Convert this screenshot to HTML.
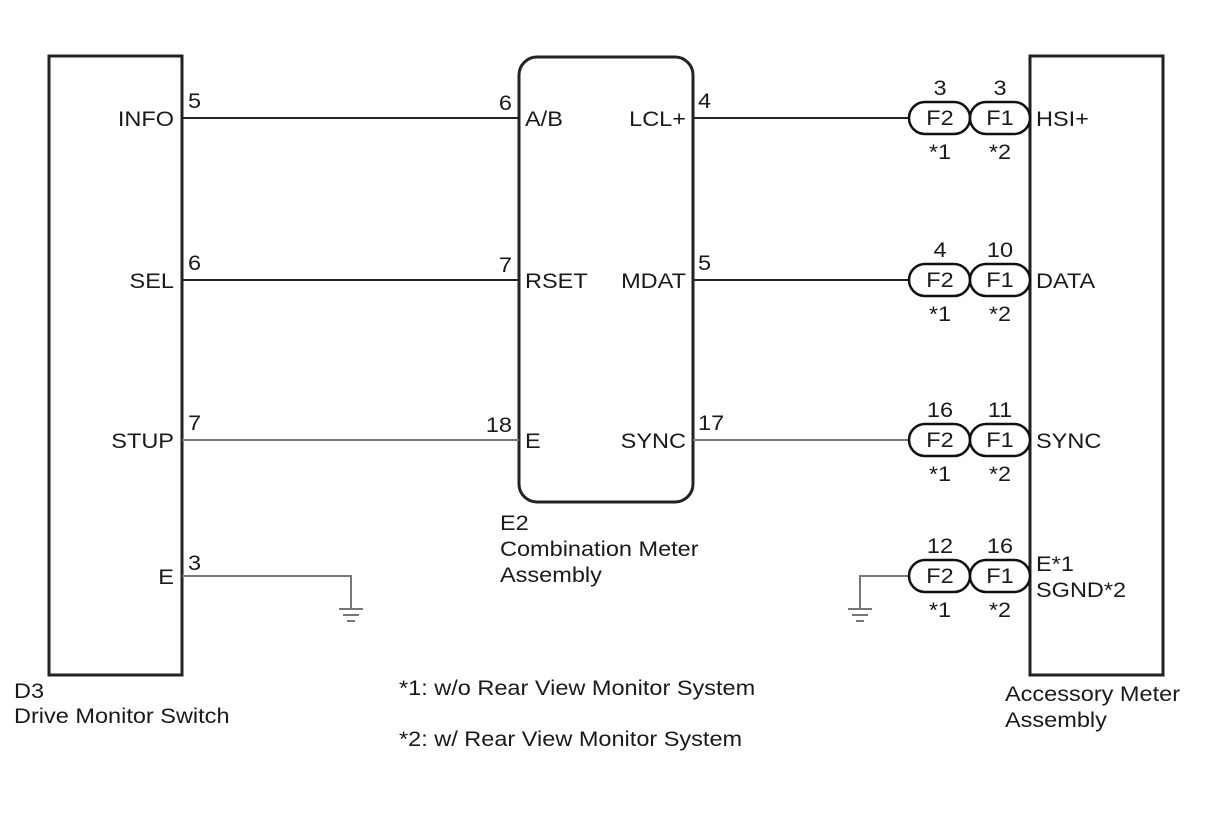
<!DOCTYPE html>
<html><head><meta charset="utf-8"><style>
html,body{margin:0;padding:0;background:#fff;}
svg{display:block;}
text{font-family:"Liberation Sans",Arial,sans-serif;font-size:21px;fill:#1a1a1a;transform-box:fill-box;transform:scaleX(1.12);transform-origin:left center;}
.e text,text.e{transform-origin:right center;}
.m text{transform-origin:center center;}
</style></head><body>
<svg width="1210" height="814" viewBox="0 0 1210 814" xmlns="http://www.w3.org/2000/svg">
<g fill="none" stroke="#222" stroke-width="3">
<rect x="49" y="56" width="133" height="619"/>
<rect x="1030" y="56" width="133" height="619"/>
<rect x="519" y="57" width="174" height="445" rx="18" ry="18"/>
</g>
<g stroke="#222" stroke-width="2" fill="none">
<line x1="182" y1="118" x2="519" y2="118"/>
<line x1="182" y1="280" x2="519" y2="280"/>
<line x1="693" y1="118" x2="910" y2="118"/>
<line x1="693" y1="280" x2="910" y2="280"/>
</g>
<g stroke="#777" stroke-width="2" fill="none">
<line x1="182" y1="440" x2="519" y2="440"/>
<line x1="693" y1="440" x2="910" y2="440"/>
<polyline points="182,576 351,576 351,608"/>
<polyline points="910,576 860,576 860,608"/>
<line x1="339" y1="609" x2="363" y2="609"/>
<line x1="343" y1="615" x2="359" y2="615"/>
<line x1="347" y1="621" x2="355" y2="621"/>
<line x1="848" y1="609" x2="872" y2="609"/>
<line x1="852" y1="615" x2="868" y2="615"/>
<line x1="856" y1="621" x2="864" y2="621"/>
</g>
<g stroke="#111" stroke-width="2.5" fill="#fff">
<rect x="909" y="102" width="61" height="32" rx="16"/>
<rect x="970" y="102" width="60" height="32" rx="16"/>
<rect x="909" y="264" width="61" height="32" rx="16"/>
<rect x="970" y="264" width="60" height="32" rx="16"/>
<rect x="909" y="424" width="61" height="32" rx="16"/>
<rect x="970" y="424" width="60" height="32" rx="16"/>
<rect x="909" y="560" width="61" height="32" rx="16"/>
<rect x="970" y="560" width="60" height="32" rx="16"/>
</g>
<g text-anchor="end" class="e">
<text x="174" y="126">INFO</text>
<text x="174" y="288">SEL</text>
<text x="174" y="448">STUP</text>
<text x="174" y="584">E</text>
<text x="512" y="110">6</text>
<text x="512" y="272">7</text>
<text x="512" y="432">18</text>
<text x="686" y="126">LCL+</text>
<text x="686" y="288">MDAT</text>
<text x="686" y="448">SYNC</text>
</g>
<text x="188" y="108">5</text>
<text x="188" y="270">6</text>
<text x="188" y="430">7</text>
<text x="188" y="570">3</text>
<text x="525" y="126">A/B</text>
<text x="525" y="288">RSET</text>
<text x="525" y="448">E</text>
<text x="698" y="108">4</text>
<text x="698" y="270">5</text>
<text x="698" y="430">17</text>
<g text-anchor="middle" class="m">
<text x="940" y="125">F2</text><text x="1000" y="125">F1</text>
<text x="940" y="95">3</text><text x="1000" y="95">3</text>
<text x="940" y="159">*1</text><text x="1000" y="159">*2</text>
<text x="940" y="287">F2</text><text x="1000" y="287">F1</text>
<text x="940" y="257">4</text><text x="1000" y="257">10</text>
<text x="940" y="321">*1</text><text x="1000" y="321">*2</text>
<text x="940" y="447">F2</text><text x="1000" y="447">F1</text>
<text x="940" y="417">16</text><text x="1000" y="417">11</text>
<text x="940" y="481">*1</text><text x="1000" y="481">*2</text>
<text x="940" y="583">F2</text><text x="1000" y="583">F1</text>
<text x="940" y="553">12</text><text x="1000" y="553">16</text>
<text x="940" y="617">*1</text><text x="1000" y="617">*2</text>
</g>
<text x="1036" y="126">HSI+</text>
<text x="1036" y="288">DATA</text>
<text x="1036" y="448">SYNC</text>
<text x="1036" y="571">E*1</text>
<text x="1036" y="597">SGND*2</text>
<text x="500" y="530">E2</text>
<text x="500" y="556">Combination Meter</text>
<text x="500" y="582">Assembly</text>
<text x="14" y="698">D3</text>
<text x="14" y="723">Drive Monitor Switch</text>
<text x="1005" y="701">Accessory Meter</text>
<text x="1005" y="727">Assembly</text>
<text x="399" y="695">*1: w/o Rear View Monitor System</text>
<text x="399" y="746">*2: w/ Rear View Monitor System</text>
</svg>
</body></html>
